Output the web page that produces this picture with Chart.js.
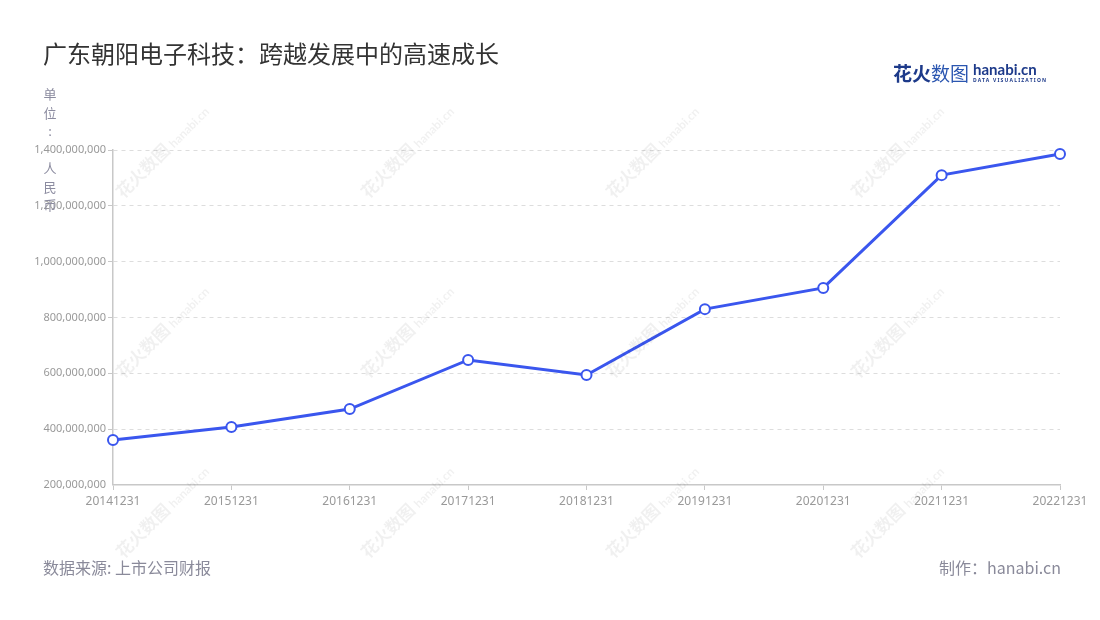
<!DOCTYPE html>
<html>
<head>
<meta charset="utf-8">
<script src="https://cdn.jsdelivr.net/npm/chart.js@4.4.0/dist/chart.umd.min.js"></script>
<style>
  html, body { margin:0; padding:0; background:#fff; }
  body { width:1100px; height:620px; position:relative; overflow:hidden;
         font-family:"Noto Sans CJK SC","Noto Sans",sans-serif; }
  #wrap { position:absolute; left:0; top:0; width:1100px; height:620px; }
  .title { position:absolute; left:43px; top:37px; font-size:24px; color:#333; letter-spacing:0; white-space:nowrap; line-height:32px; }
  .unit { position:absolute; left:42px; top:85px; width:16px; font-size:13px; color:#8c8ca0; line-height:18.5px; text-align:center; }
  .src { position:absolute; left:43px; top:554px; font-size:16px; color:#8a8a9a; white-space:nowrap; line-height:26px; }
  .credit { position:absolute; right:39px; top:554px; font-size:16px; color:#8a8a9a; white-space:nowrap; line-height:26px; }
  .logo { position:absolute; left:893px; top:60px; height:26px; white-space:nowrap; }
  .logo .cn { font-size:19px; font-weight:bold; color:#1d3a8a; line-height:26px; vertical-align:top; }
  .logo .cn2 { font-weight:normal; color:#2b56b0; }
  .logo .en { display:inline-block; vertical-align:top; margin-left:4px; line-height:1; }
  .logo .en b { display:block; font-family:"Lato","Noto Sans",sans-serif; font-size:15px; color:#1d3a8a; font-weight:bold; margin-top:2px; }
  .logo .en i { display:block; font-style:normal; font-family:"Noto Sans",sans-serif; font-size:5px; color:#1d3a8a; letter-spacing:1.2px; margin-top:1px; font-weight:bold; }
  .wm { position:absolute; transform:rotate(-45deg); transform-origin:center; font-size:17px; font-weight:bold; color:rgba(0,0,0,0.06); white-space:nowrap; pointer-events:none; }
  .wm small { font-size:12px; font-family:"Lato",sans-serif; }
</style>
</head>
<body>
<div id="wrap"><canvas id="c" width="1100" height="620"></canvas></div>
<div class="title">广东朝阳电子科技：跨越发展中的高速成长</div>
<div class="unit" id="unit"></div>
<div class="logo"><span class="cn">花火<span class="cn2">数图</span></span><span class="en"><b>hanabi.cn</b><i>DATA VISUALIZATION</i></span></div>
<div class="src">数据来源: 上市公司财报</div>
<div class="credit">制作：hanabi.cn</div>
<div id="wms"></div>
<script>
const categories = ['20141231','20151231','20161231','20171231','20181231','20191231','20201231','20211231','20221231'];
const revenue = [361000000, 408000000, 472000000, 648000000, 594000000, 830000000, 906000000, 1310000000, 1386000000];
const yTicks = [200000000, 400000000, 600000000, 800000000, 1000000000, 1200000000, 1400000000];
const unitChars = ['单','位',':','\u00a0','人','民','币'];
const wmCenters = [[175,150],[420,150],[665,150],[910,150],[175,330],[420,330],[665,330],[910,330],[175,510],[420,510],[665,510],[910,510]];

document.getElementById('unit').innerHTML = unitChars.map(c => '<div>' + c + '</div>').join('');
const wms = document.getElementById('wms');
wmCenters.forEach(([x,y]) => {
  const d = document.createElement('div');
  d.className = 'wm';
  d.innerHTML = '花火数图 <small>hanabi.cn</small>';
  d.style.left = (x - 75) + 'px';
  d.style.top = (y - 12) + 'px';
  wms.appendChild(d);
});

const FONT = '"Noto Sans","Noto Sans CJK SC",sans-serif';
new Chart(document.getElementById('c'), {
  type: 'line',
  data: {
    labels: categories,
    datasets: [{
      data: revenue,
      borderColor: '#3a56ee',
      borderWidth: 3,
      tension: 0,
      pointRadius: 5,
      pointBorderWidth: 2,
      pointBackgroundColor: '#ffffff',
      pointBorderColor: '#3a56ee',
      clip: false
    }]
  },
  options: {
    responsive: false,
    animation: false,
    events: [],
    layout: { padding: { left: 0, right: 40, top: 150, bottom: 105 } },
    plugins: { legend: { display: false }, tooltip: { enabled: false } },
    scales: {
      x: {
        offset: false,
        grid: { display: true, drawOnChartArea: false, drawTicks: true, tickLength: 5, tickColor: '#c8c8c8', color: '#c8c8c8' },
        border: { display: true, color: '#c8c8c8', width: 1.5 },
        ticks: { color: '#999', font: { family: FONT, size: 12 }, padding: 4, maxRotation: 0, autoSkip: false },
        afterFit: s => { s.height = 30; }
      },
      y: {
        min: yTicks[0],
        max: yTicks[yTicks.length - 1],
        afterBuildTicks: s => { s.ticks = yTicks.map(v => ({ value: v })); },
        grid: { color: '#dddddd', tickLength: 5, tickColor: '#c8c8c8', tickBorderDash: [], drawTicks: true,
                lineWidth: ctx => (ctx.tick && ctx.tick.value === yTicks[0]) ? 0 : 1 },
        border: { display: true, color: '#c8c8c8', width: 1.5, dash: [4, 4] },
        ticks: { color: '#999', font: { family: FONT, size: 11 }, padding: 2,
                 callback: v => Number(v).toLocaleString('en-US') },
        afterFit: s => { s.width = 113; }
      }
    }
  }
});
</script>
</body>
</html>
